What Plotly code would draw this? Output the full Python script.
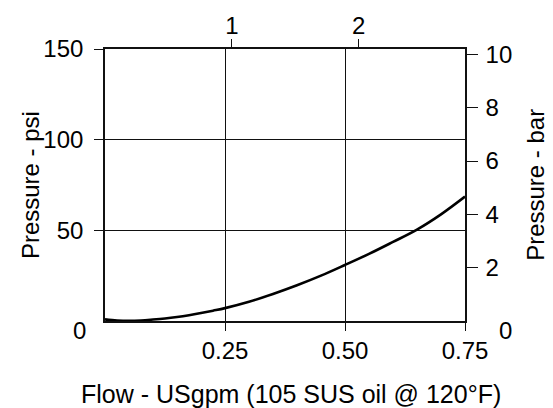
import plotly.graph_objects as go

# curve: flow in USgpm, pressure drop in psi
flow_gpm = [0, 0.025, 0.05, 0.075, 0.1, 0.125, 0.15, 0.175, 0.2, 0.225, 0.25,
            0.3, 0.35, 0.4, 0.45, 0.5, 0.55, 0.6, 0.65, 0.7, 0.75]
pressure_psi = [0.9, 0.3, 0.1, 0.3, 0.8, 1.4, 2.2, 3.2, 4.4, 5.7, 7.1,
                10.6, 14.9, 19.7, 25.0, 30.9, 37.0, 43.6, 50.4, 58.8, 68.6]

gpm_ticks = [0.25, 0.5, 0.75]
gpm_labels = ['0.25', '0.50', '0.75']
lpm_ticks = [1, 2]
psi_ticks = [50, 100, 150]
bar_ticks = [2, 4, 6, 8, 10]

LPM_PER_GPM = 3.785
PSI_PER_BAR = 14.5

flow_lpm = [q * LPM_PER_GPM for q in flow_gpm]
pressure_bar = [p / PSI_PER_BAR for p in pressure_psi]

FONT = 'Liberation Sans'
FS = 24
INK = '#111111'

fig = go.Figure()
fig.add_trace(go.Scatter(x=flow_gpm, y=pressure_psi, mode='lines',
                         line=dict(color='black', width=2.6, shape='spline'),
                         showlegend=False, hoverinfo='skip'))
# same curve in metric units, invisible, only to carry the top/right axes
fig.add_trace(go.Scatter(x=flow_lpm, y=pressure_bar, mode='lines',
                         xaxis='x2', yaxis='y2', line=dict(width=0),
                         opacity=0, showlegend=False, hoverinfo='skip'))

axis_common = dict(showline=True, linecolor=INK, linewidth=1.6, ticks='outside',
                   tickcolor=INK, tickwidth=1.4, zeroline=False,
                   tickfont=dict(family=FONT, size=FS, color='black'))

# page has an 8px body margin, so margins are trimmed by 8
fig.update_layout(
    width=553, height=408,
    margin=dict(l=97, r=96, t=41, b=95, autoexpand=False),
    paper_bgcolor='white', plot_bgcolor='white',
    font=dict(family=FONT, size=FS, color='black'),
    xaxis=dict(range=[0, 0.75], tickvals=gpm_ticks, ticktext=gpm_labels,
               ticklen=8, showgrid=True, gridcolor=INK, gridwidth=1.4,
               ticklabelstandoff=-1, **axis_common),
    xaxis2=dict(range=[0, 0.75 * LPM_PER_GPM], overlaying='x', side='top',
                tickvals=lpm_ticks, ticklen=8, showgrid=False,
                ticklabelstandoff=-4, **axis_common),
    yaxis=dict(range=[0, 150], tickvals=psi_ticks, ticklen=9,
               showgrid=True, gridcolor=INK, gridwidth=1.4,
               ticklabelstandoff=6, **axis_common),
    yaxis2=dict(range=[0, 10.2], overlaying='y', side='right', tickvals=bar_ticks,
                ticklen=11, showgrid=False, ticklabelstandoff=3, **axis_common),
)

titles = [
    ('Flow - USgpm (105 SUS oil @ 120°F)', 0.517, -0.268, 0, 25),
    ('Pressure - psi', -0.208, 0.5, -90, FS),
    ('Pressure - bar', 1.194, 0.5, -90, FS),
]
for text, xpos, ypos, angle, size in titles:
    fig.add_annotation(text=text, x=xpos, y=ypos, xref='paper', yref='paper',
                       xanchor='center', yanchor='middle', textangle=angle,
                       showarrow=False, font=dict(family=FONT, size=size))

# the zero labels sit a little below the baseline in the original
for xpos, anchor in [(-0.047, 'right'), (1.089, 'left')]:
    fig.add_annotation(text='0', x=xpos, y=0, xref='paper', yref='y',
                       yshift=-9, xanchor=anchor, yanchor='middle',
                       showarrow=False, font=dict(family=FONT, size=FS))

fig.write_html("out.html")
